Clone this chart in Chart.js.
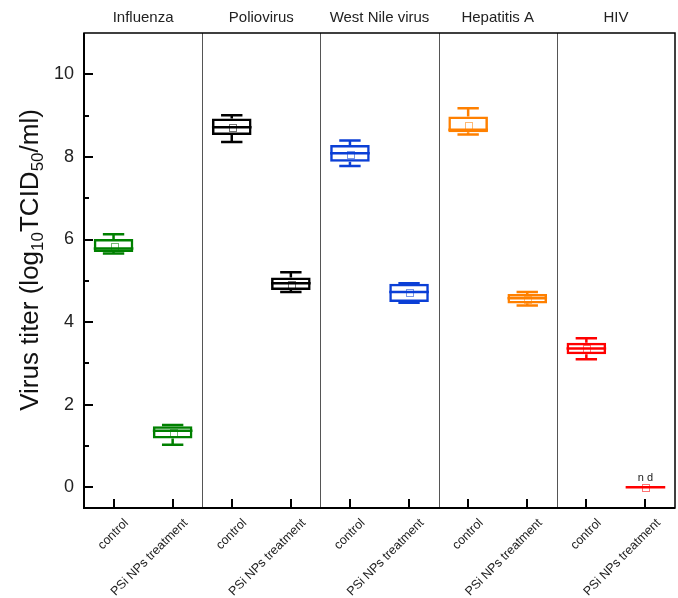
<!DOCTYPE html>
<html>
<head>
<meta charset="utf-8">
<script src="https://cdn.jsdelivr.net/npm/chart.js@4.4.1/dist/chart.umd.min.js"></script>
<style>
  html, body { margin: 0; padding: 0; background: #fff; }
  #wrap { width: 678px; height: 598px; }
</style>
</head>
<body>
<div id="wrap"><canvas id="myChart" width="678" height="598"></canvas></div>
<script>
// groups and categories
const groups = ["Influenza", "Poliovirus", "West Nile virus", "Hepatitis A", "HIV"];
const categories = [
  "control", "PSi NPs treatment",
  "control", "PSi NPs treatment",
  "control", "PSi NPs treatment",
  "control", "PSi NPs treatment",
  "control", "PSi NPs treatment",
];

// box plot stats (log10 TCID50/ml)
const whiskerLow  = [5.66, 1.03, 8.36, 4.73, 7.78, 4.47, 8.54, 4.40, 3.10, 0];
const q1          = [5.70, 1.18, 8.53, 4.78, 7.88, 4.49, 8.60, 4.45, 3.22, 0];
const median      = [5.78, 1.37, 8.72, 4.94, 8.09, 4.73, 8.66, 4.58, 3.36, 0];
const q3          = [6.01, 1.48, 8.93, 5.08, 8.29, 4.93, 8.98, 4.68, 3.50, 0];
const whiskerHigh = [6.13, 1.51, 9.01, 5.21, 8.40, 4.94, 9.18, 4.73, 3.61, 0];
const means       = [5.85, 1.33, 8.72, 4.93, 8.08, 4.73, 8.77, 4.57, 3.37, 0];

const groupColors = ["#008000", "#000000", "#0b3fd6", "#ff8000", "#ff0000"];
const boxColors = categories.map((c, i) => groupColors[Math.floor(i / 2)]);

const yTicks = [0, 2, 4, 6, 8, 10];

const FONT = "'Liberation Sans', Arial, sans-serif";

// ===================== Extra drawing =====================
const boxPlugin = {
  id: "boxExtras",
  afterDatasetsDraw(chart) {
    const ctx = chart.ctx;
    const x = chart.scales.x;
    const y = chart.scales.y;
    const area = chart.chartArea;
    const bars = chart.getDatasetMeta(0).data;

    ctx.save();

    // group dividers
    ctx.strokeStyle = "#555";
    ctx.lineWidth = 1;
    for (let g = 1; g < groups.length; g++) {
      const px = Math.round((x.getPixelForValue(g * 2 - 1) + x.getPixelForValue(g * 2)) / 2) + 0.5;
      ctx.beginPath();
      ctx.moveTo(px, area.top);
      ctx.lineTo(px, area.bottom);
      ctx.stroke();
    }

    // whiskers, medians, means
    categories.forEach((c, i) => {
      const cx = x.getPixelForValue(i);
      const w = bars[i].width;
      const capW = w * 0.54;
      ctx.strokeStyle = boxColors[i];
      ctx.lineWidth = 2.5;
      ctx.beginPath();
      ctx.moveTo(cx, y.getPixelForValue(q3[i]));
      ctx.lineTo(cx, y.getPixelForValue(whiskerHigh[i]));
      ctx.moveTo(cx, y.getPixelForValue(q1[i]));
      ctx.lineTo(cx, y.getPixelForValue(whiskerLow[i]));
      ctx.moveTo(cx - capW / 2, y.getPixelForValue(whiskerHigh[i]));
      ctx.lineTo(cx + capW / 2, y.getPixelForValue(whiskerHigh[i]));
      ctx.moveTo(cx - capW / 2, y.getPixelForValue(whiskerLow[i]));
      ctx.lineTo(cx + capW / 2, y.getPixelForValue(whiskerLow[i]));
      ctx.moveTo(cx - w / 2, y.getPixelForValue(median[i]));
      ctx.lineTo(cx + w / 2, y.getPixelForValue(median[i]));
      ctx.stroke();

      ctx.globalAlpha = 0.55;
      ctx.lineWidth = 1;
      const my = y.getPixelForValue(means[i]);
      ctx.strokeRect(Math.round(cx - 3) + 0.5, Math.round(my - 3) + 0.5, 7, 7);
      ctx.globalAlpha = 1;
    });

    // "n d" for not detected
    ctx.fillStyle = "#222";
    ctx.font = "11px " + FONT;
    ctx.textAlign = "center";
    ctx.textBaseline = "alphabetic";
    ctx.fillText("n d", x.getPixelForValue(9), y.getPixelForValue(0) - 6);

    // frame
    ctx.strokeStyle = "#000";
    ctx.lineWidth = 1.5;
    ctx.strokeRect(area.left, area.top, area.right - area.left, area.bottom - area.top);
    ctx.lineWidth = 2;
    ctx.beginPath();
    ctx.moveTo(area.left, area.top);
    ctx.lineTo(area.left, area.bottom);
    ctx.lineTo(area.right, area.bottom);
    ctx.stroke();

    // inward ticks
    ctx.lineWidth = 2;
    ctx.beginPath();
    for (let v = 0; v <= 10; v++) {
      const py = Math.round(y.getPixelForValue(v));
      ctx.moveTo(area.left, py);
      ctx.lineTo(area.left + (v % 2 === 0 ? 9 : 5), py);
    }
    categories.forEach((c, i) => {
      const px = Math.round(x.getPixelForValue(i));
      ctx.moveTo(px, area.bottom);
      ctx.lineTo(px, area.bottom - 9);
    });
    ctx.stroke();

    // rotated category labels
    ctx.fillStyle = "#222";
    ctx.font = "12.5px " + FONT;
    ctx.textAlign = "right";
    ctx.textBaseline = "middle";
    categories.forEach((c, i) => {
      ctx.save();
      ctx.translate(x.getPixelForValue(i) + 13, area.bottom + 13);
      ctx.rotate(-Math.PI / 4);
      ctx.fillText(c, 0, 0);
      ctx.restore();
    });

    // group titles on top
    ctx.font = "15px " + FONT;
    ctx.textAlign = "center";
    ctx.textBaseline = "middle";
    groups.forEach((g, k) => {
      const gx = (x.getPixelForValue(k * 2) + x.getPixelForValue(k * 2 + 1)) / 2;
      ctx.fillText(g, gx, 18);
    });

    // y axis title with subscripts
    const parts = [
      ["Virus titer (log", 26, 0],
      ["10", 17, 7],
      ["TCID", 26, 0],
      ["50", 17, 7],
      ["/ml)", 26, 0],
    ];
    let total = 0;
    parts.forEach(([t, s]) => {
      ctx.font = s + "px " + FONT;
      total += ctx.measureText(t).width;
    });
    ctx.save();
    ctx.translate(31, 260);
    ctx.rotate(-Math.PI / 2);
    ctx.textAlign = "left";
    ctx.textBaseline = "middle";
    ctx.fillStyle = "#111";
    let tx = -total / 2;
    parts.forEach(([t, s, dy]) => {
      ctx.font = s + "px " + FONT;
      ctx.fillText(t, tx, dy);
      tx += ctx.measureText(t).width;
    });
    ctx.restore();

    ctx.restore();
  },
};

// ===================== Chart =====================
const chart = new Chart(document.getElementById("myChart"), {
  type: "bar",
  data: {
    labels: categories,
    datasets: [
      {
        label: "box",
        data: q1.map((v, i) => [v, q3[i]]),
        backgroundColor: "rgba(0,0,0,0)",
        borderColor: boxColors,
        borderWidth: 2.5,
        borderSkipped: false,
        categoryPercentage: 1,
        barPercentage: 0.67,
      },
    ],
  },
  options: {
    responsive: false,
    animation: false,
    layout: { padding: { top: 33, right: 3, left: 0, bottom: 0 } },
    plugins: {
      legend: { display: false },
      tooltip: { enabled: false },
    },
    scales: {
      x: {
        grid: { display: false },
        border: { display: false },
        ticks: { display: false },
        afterFit: (s) => { s.height = 90; },
      },
      y: {
        min: -0.5,
        max: 11,
        grid: { display: false },
        border: { display: false },
        afterBuildTicks: (s) => { s.ticks = yTicks.map((v) => ({ value: v })); },
        ticks: {
          padding: 2,
          color: "#222",
          font: { family: FONT, size: 18 },
        },
        afterFit: (s) => { s.width = 84; },
      },
    },
  },
  plugins: [boxPlugin],
});
</script>
</body>
</html>
